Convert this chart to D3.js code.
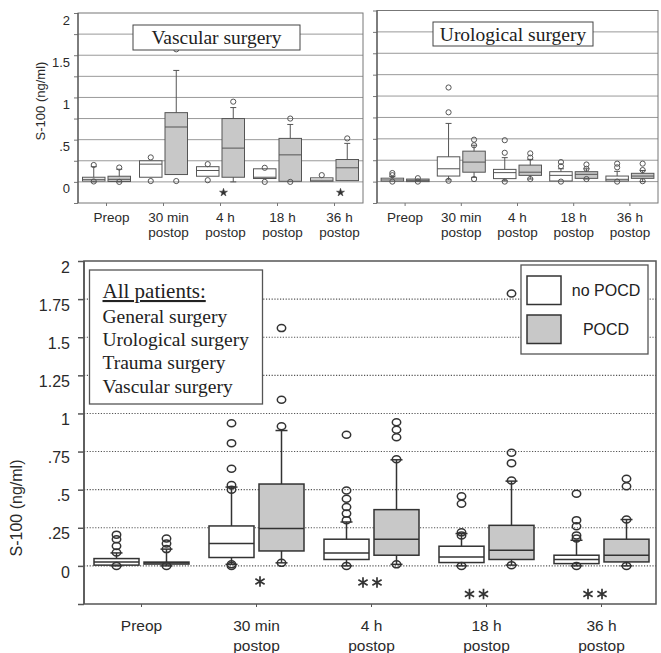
<!DOCTYPE html>
<html>
<head>
<meta charset="utf-8">
<script src="https://cdn.jsdelivr.net/npm/d3@7"></script>
<style>
  body { margin: 0; background: #fff; }
  svg { display: block; }
</style>
</head>
<body>
<div id="chart"></div>
<script>
// categories and groups
const categories = ["Preop", "30 min postop", "4 h postop", "18 h postop", "36 h postop"];
const tickLines = [["Preop"], ["30 min", "postop"], ["4 h", "postop"], ["18 h", "postop"], ["36 h", "postop"]];
const groups = ["no POCD", "POCD"];

// box stats per category: [low whisker, q1, median, q3, high whisker]
const vascNo = [[0, 0.01, 0.03, 0.055, 0.18], [0.055, 0.055, 0.21, 0.25, 0.25], [0.067, 0.067, 0.135, 0.18, 0.18], [0.04, 0.04, 0.055, 0.155, 0.155], [0.007, 0.007, 0.02, 0.048, 0.048]];
const vascPocd = [[0, 0.005, 0.03, 0.067, 0.15], [0.087, 0.087, 0.65, 0.82, 1.32], [0, 0.055, 0.40, 0.75, 0.88], [0.007, 0.007, 0.32, 0.515, 0.68], [0.015, 0.015, 0.167, 0.265, 0.456]];
const vascNoOut = [[0.2, 0.005], [0.29, 0.01], [0.21, 0.02], [0.167, 0], [0.08]];
const vascPocdOut = [[0.17, 0], [1.57, 0.01], [0.95], [0.75, 0], [0.515]];
const vascStars = ["", "", "*", "", "*"];

const uroNo = [[0.005, 0.005, 0.02, 0.04, 0.06], [0.02, 0.065, 0.15, 0.29, 0.68], [0.01, 0.035, 0.105, 0.143, 0.28], [0.007, 0.007, 0.073, 0.116, 0.15], [0.007, 0.007, 0.027, 0.065, 0.12]];
const uroPocd = [[0, 0, 0.015, 0.03, 0.03], [0.05, 0.11, 0.228, 0.356, 0.425], [0.03, 0.073, 0.11, 0.193, 0.26], [0.03, 0.038, 0.085, 0.116, 0.15], [0, 0.038, 0.065, 0.097, 0.13]];
const uroNoOut = [[0.1, 0.075, 0], [0.81, 1.1, 0.01], [0.337, 0.484, 0], [0.228, 0.18, 0], [0.21, 0.167, 0]];
const uroPocdOut = [[0.04, 0], [0.49, 0.425, 0.03], [0.28, 0.33, 0.03], [0.2, 0.15, 0.03], [0.21, 0.135, 0.005]];
const uroStars = ["", "", "", "", ""];

const allNo = [[0, 0.005, 0.026, 0.048, 0.085], [0.01, 0.055, 0.147, 0.262, 0.517], [0, 0.042, 0.085, 0.175, 0.288], [0, 0.022, 0.059, 0.129, 0.212], [0, 0.015, 0.042, 0.07, 0.168]];
const allPocd = [[0, 0.012, 0.02, 0.025, 0.11], [0.02, 0.098, 0.245, 0.537, 0.888], [0.01, 0.07, 0.175, 0.369, 0.696], [0.005, 0.042, 0.103, 0.266, 0.556], [0, 0.026, 0.07, 0.175, 0.304]];
const allNoOut = [[0.205, 0.175, 0.13, 0.088, 0], [0.5, 0.53, 0.637, 0.805, 0.936, 0.01, 0], [0.3, 0.343, 0.386, 0.44, 0.495, 0.86, 0], [0.2, 0.22, 0.408, 0.456, 0], [0.18, 0.2, 0.26, 0.3, 0.474, 0]];
const allPocdOut = [[0.18, 0.147, 0.11, 0], [0.916, 1.09, 1.56, 0.02], [0.7, 0.844, 0.893, 0.942, 0.01], [0.56, 0.674, 0.742, 1.787, 0.005], [0.304, 0.522, 0.572, 0]];
const allStars = ["", "*", "**", "**", "**"];

const yTicks = d3.range(-0.25, 2.01, 0.25);
const fmt = v => (v === 0 ? "0" : String(+v.toFixed(2)).replace(/^0\./, "."));

const svg = d3.select("#chart").append("svg")
  .attr("width", 661)
  .attr("height", 653);

const GRAY = "#c8c8c8";

function drawPanel(p) {
  const g = svg.append("g");
  const x = d3.scaleBand().domain(categories).range([p.left, p.right]);
  const y = d3.scaleLinear().domain([-0.25, 2]).range([p.bottom, p.top]);
  const frameRight = p.frameRight || p.right;

  // gridlines
  g.selectAll("line.grid")
    .data(yTicks.filter(v => v >= 0 && v < 2))
    .join("line")
    .attr("x1", p.left).attr("x2", frameRight)
    .attr("y1", d => y(d)).attr("y2", d => y(d))
    .attr("stroke", p.gridColor)
    .attr("stroke-width", p.gridWidth)
    .attr("stroke-dasharray", p.gridDash || null);

  // y axis ticks + labels
  const ay = g.append("g")
    .attr("transform", `translate(${p.left},0)`)
    .call(d3.axisLeft(y).tickValues(yTicks).tickSize(p.tickLen).tickPadding(p.labelPad)
      .tickFormat(d => (p.yLabels && p.yLabels.some(v => Math.abs(v - d) < 1e-6)) ? fmt(d) : ""));
  ay.select(".domain").remove();
  ay.selectAll("line").attr("stroke", p.frameColor).attr("stroke-width", p.frameWidth);
  ay.selectAll("text")
    .attr("dy", p.labelDy)
    .style("font-family", "'Liberation Sans', Arial, sans-serif")
    .style("font-size", p.yFont + "px")
    .attr("fill", "#2a2a2a");

  // x ticks
  g.selectAll("line.xtick")
    .data(categories)
    .join("line")
    .attr("x1", d => x(d) + x.bandwidth() / 2).attr("x2", d => x(d) + x.bandwidth() / 2)
    .attr("y1", p.bottom).attr("y2", p.bottom + 3)
    .attr("stroke", p.frameColor).attr("stroke-width", 1);

  // x labels
  const xl = g.selectAll("text.xlab")
    .data(categories)
    .join("text")
    .attr("text-anchor", "middle")
    .attr("fill", "#2a2a2a")
    .style("font-family", "'Liberation Sans', Arial, sans-serif")
    .style("font-size", p.xFont + "px");
  xl.each(function (d, i) {
    const t = d3.select(this);
    tickLines[i].forEach((s, k) => {
      t.append("tspan")
        .attr("x", x(d) + x.bandwidth() / 2 + (p.xLabelDx || 0))
        .attr("y", p.xLabelY + k * p.xLineH)
        .text(s);
    });
  });

  // boxes
  const series = [[p.no, p.noOut, "#fff"], [p.pocd, p.pocdOut, GRAY]];
  series.forEach(([stats, outs, fill], gi) => {
    categories.forEach((c, i) => {
      const s = stats[i];
      const cx = x(c) + x.bandwidth() / 2 + (gi === 0 ? -1 : 1) * (p.gap + p.boxW / 2);
      const bg = g.append("g");
      bg.append("line")
        .attr("x1", cx).attr("x2", cx)
        .attr("y1", y(s[4])).attr("y2", y(s[0]))
        .attr("stroke", p.boxStroke).attr("stroke-width", p.boxWidth);
      [s[0], s[4]].forEach((v, k) => {
        if ((k === 0 && v < s[1]) || (k === 1 && v > s[3])) {
          bg.append("line")
            .attr("x1", cx - p.capW / 2).attr("x2", cx + p.capW / 2)
            .attr("y1", y(v)).attr("y2", y(v))
            .attr("stroke", p.boxStroke).attr("stroke-width", p.boxWidth);
        }
      });
      bg.append("rect")
        .attr("x", cx - p.boxW / 2).attr("width", p.boxW)
        .attr("y", y(s[3])).attr("height", Math.max(1, y(s[1]) - y(s[3])))
        .attr("fill", fill)
        .attr("stroke", p.boxStroke).attr("stroke-width", p.boxWidth);
      bg.append("line")
        .attr("x1", cx - p.boxW / 2).attr("x2", cx + p.boxW / 2)
        .attr("y1", y(s[2])).attr("y2", y(s[2]))
        .attr("stroke", p.boxStroke).attr("stroke-width", p.boxWidth);
      bg.selectAll("ellipse")
        .data(outs[i])
        .join("ellipse")
        .attr("cx", cx).attr("cy", d => y(d))
        .attr("rx", p.rx).attr("ry", p.ry)
        .attr("fill", "none")
        .attr("stroke", p.boxStroke).attr("stroke-width", p.outWidth);
    });
  });

  // significance marks
  p.stars.forEach((st, i) => {
    if (!st) return;
    const c = categories[i];
    const cx = x(c) + x.bandwidth() / 2 + (p.starDx ? p.starDx[i] : 0);
    const cy = p.starY[i];
    const n = st.length;
    for (let k = 0; k < n; k++) {
      g.append("path")
        .attr("transform", `translate(${cx + (k - (n - 1) / 2) * p.starSpace},${cy})`)
        .attr("d", d3.symbol().type(p.starType).size(p.starSize)())
        .attr("fill", p.starType === d3.symbolStar ? "#333" : "none")
        .attr("stroke", "#333")
        .attr("stroke-width", p.starType === d3.symbolStar ? 0.5 : 1.7);
    }
  });

  // frame
  g.append("rect")
    .attr("x", p.left).attr("y", p.top)
    .attr("width", frameRight - p.left).attr("height", p.bottom - p.top)
    .attr("fill", "none")
    .attr("stroke", p.frameColor).attr("stroke-width", p.frameWidth);
  g.append("line")
    .attr("x1", p.left).attr("x2", p.left).attr("y1", p.top).attr("y2", p.bottom)
    .attr("stroke", p.axisColor || p.frameColor).attr("stroke-width", p.axisWidth || p.frameWidth);

  // y title
  if (p.yTitle) {
    g.append("text")
      .attr("transform", `translate(${p.yTitle.x},${p.yTitle.y}) rotate(-90)`)
      .attr("text-anchor", "middle")
      .attr("fill", "#2a2a2a")
      .style("font-family", "'Liberation Sans', Arial, sans-serif")
      .style("font-size", p.yTitle.size + "px")
      .text("S-100 (ng/ml)");
  }

  // panel title box
  if (p.title) {
    const t = p.title;
    g.append("rect")
      .attr("x", t.x).attr("y", t.y).attr("width", t.w).attr("height", t.h)
      .attr("fill", "#fff").attr("stroke", "#444").attr("stroke-width", 1);
    g.append("text")
      .attr("x", t.x + t.w / 2).attr("y", t.y + t.h / 2 + 6.5)
      .attr("text-anchor", "middle")
      .attr("fill", "#222")
      .style("font-family", "'Liberation Serif', 'Times New Roman', serif")
      .style("font-size", "19.5px")
      .text(t.text);
  }
  return { x, y };
}

const topCommon = {
  gridColor: "#999", gridWidth: 1,
  frameColor: "#777", frameWidth: 1, axisColor: "#555", axisWidth: 1.2,
  tickLen: 4, labelPad: 4, labelDy: "0.85em", yFont: 13,
  xFont: 13.5, xLabelY: 222, xLineH: 15,
  boxW: 22.5, gap: 1.5, capW: 6, boxStroke: "#555", boxWidth: 1,
  rx: 2.6, ry: 2.6, outWidth: 1,
  starType: d3.symbolStar, starSize: 20, starSpace: 10
};

drawPanel(Object.assign({}, topCommon, {
  left: 78, right: 363, top: 13, bottom: 203,
  no: vascNo, pocd: vascPocd, noOut: vascNoOut, pocdOut: vascPocdOut,
  stars: vascStars, starY: [0, 0, 192.5, 0, 192.5], starDx: [0, 0, 3, 0, 6],
  yLabels: [0, 0.5, 1, 1.5, 2], xLabelDx: 5,
  yTitle: { x: 45, y: 101, size: 13 },
  title: { x: 133, y: 25, w: 167, h: 25, text: "Vascular surgery" }
}));

drawPanel(Object.assign({}, topCommon, {
  left: 377, right: 658, top: 10.5, bottom: 203,
  no: uroNo, pocd: uroPocd, noOut: uroNoOut, pocdOut: uroPocdOut,
  stars: uroStars, starY: [0, 0, 0, 0, 0],
  yLabels: [],
  title: { x: 433, y: 22, w: 160, h: 24, text: "Urological surgery" }
}));

drawPanel({
  left: 84, right: 659, frameRight: 656, top: 261, bottom: 604,
  gridColor: "#555", gridWidth: 1.1, gridDash: "1.2,1.6",
  frameColor: "#555", frameWidth: 1.5,
  tickLen: 6, labelPad: 8, labelDy: "0.7em", yFont: 16,
  xFont: 15.5, xLabelY: 631, xLineH: 20,
  no: allNo, pocd: allPocd, noOut: allNoOut, pocdOut: allPocdOut,
  boxW: 45, gap: 2.5, capW: 12, boxStroke: "#333", boxWidth: 1.5,
  rx: 4.2, ry: 3.5, outWidth: 1.5,
  stars: allStars, starY: [0, 581.5, 582.5, 594, 594], starDx: [0, 3.5, -1.5, -10, -6.5],
  starType: d3.symbolAsterisk, starSize: 80, starSpace: 14,
  yLabels: yTicks.filter(v => v >= 0),
  yTitle: { x: 22, y: 508, size: 16 }
});

// "All patients" box
const lg = svg.append("g");
lg.append("rect")
  .attr("x", 89.5).attr("y", 270).attr("width", 173).attr("height", 134)
  .attr("fill", "#fff").attr("stroke", "#555").attr("stroke-width", 1.3);
const surgeries = ["General surgery", "Urological surgery", "Trauma surgery", "Vascular surgery"];
lg.append("text")
  .attr("x", 102.5).attr("y", 298)
  .attr("fill", "#222")
  .style("font-family", "'Liberation Serif', 'Times New Roman', serif")
  .style("font-size", "21px")
  .style("text-decoration", "underline")
  .text("All patients:");
lg.selectAll("text.surg")
  .data(surgeries)
  .join("text")
  .attr("x", 102.5)
  .attr("y", (d, i) => 322.5 + i * 23.4)
  .attr("fill", "#222")
  .style("font-family", "'Liberation Serif', 'Times New Roman', serif")
  .style("font-size", "19.5px")
  .text(d => d);

// group legend
const gl = svg.append("g");
gl.append("rect")
  .attr("x", 521).attr("y", 265).attr("width", 127).attr("height", 89)
  .attr("fill", "#fff").attr("stroke", "#555").attr("stroke-width", 1.3);
groups.forEach((name, i) => {
  gl.append("rect")
    .attr("x", 527).attr("y", 276 + i * 39).attr("width", 34).attr("height", 28.5)
    .attr("fill", i ? GRAY : "#fff")
    .attr("stroke", "#333").attr("stroke-width", 1.5);
  gl.append("text")
    .attr("x", 606).attr("y", 296 + i * 39)
    .attr("text-anchor", "middle")
    .attr("fill", "#222")
    .style("font-family", "'Liberation Sans', Arial, sans-serif")
    .style("font-size", "16px")
    .text(name);
});
</script>
</body>
</html>
